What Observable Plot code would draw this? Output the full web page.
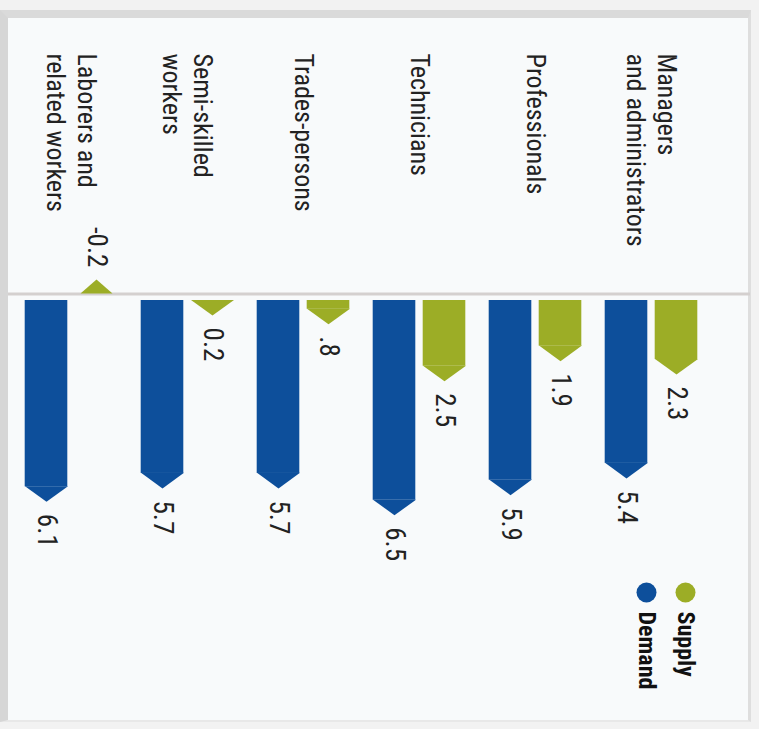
<!DOCTYPE html>
<html><head><meta charset="utf-8">
<script src="https://cdn.jsdelivr.net/npm/d3@7"></script>
<script src="https://cdn.jsdelivr.net/npm/@observablehq/plot@0.6"></script>
<style>
html,body{margin:0;padding:0;background:#f2f2f2;}
#frame{position:absolute;left:0;top:10px;width:740px;height:702px;background:#f8fafb;border-top:8px solid #dadada;border-left:8px solid #d6d6d6;border-right:3px solid #dedede;border-bottom:2px solid #e8e8e8;}
#chart{position:absolute;left:0;top:0;}
</style></head><body>
<div id="frame"></div>
<div id="chart"></div>
<script>
// ---- data ----
const categories = [
  "Laborers and\nrelated workers",
  "Semi-skilled\nworkers",
  "Trades-persons",
  "Technicians",
  "Professionals",
  "Managers\nand administrators"
];
const series = ["Demand", "Supply"];
const demand = [6.1, 5.7, 5.7, 6.5, 5.9, 5.4];
const supply = [-0.2, 0.2, 0.8, 2.5, 1.9, 2.3];
const demandLabels = ["6.1", "5.7", "5.7", "6.5", "5.9", "5.4"];
const supplyLabels = ["-0.2", "0.2", ".8", "2.5", "1.9", "2.3"];

const rows = categories.flatMap((c, i) => [
  {category: c, series: "Demand", value: demand[i], label: demandLabels[i]},
  {category: c, series: "Supply", value: supply[i], label: supplyLabels[i]}
]);

// ---- style ----
const FONT = '"Liberation Sans Narrow","Arial Narrow","Roboto Condensed","Liberation Sans",sans-serif';
const BLUE = "#0d4f9b", OLIVE = "#9cad26";
const BAR_INSET = 36.7;      // (band step - bar width) / 2
const TIP_H = 15;            // arrow tip height in px
const MIN_TIP = 0.54;        // minimum visible arrow length (value units)
const offset = {Demand: -26, Supply: 24};
const tipY = d => Math.sign(d.value) * Math.max(Math.abs(d.value), MIN_TIP);

const downTip = {draw(ctx) { ctx.moveTo(-21.5, -TIP_H - 0.6); ctx.lineTo(21.5, -TIP_H - 0.6); ctx.lineTo(0, 0); ctx.closePath(); }};
const upTip = {draw(ctx) { ctx.moveTo(-16, 14); ctx.lineTo(16, 14); ctx.lineTo(0, 0); ctx.closePath(); }};

function seriesMarks(s) {
  const dx = offset[s];
  return [
    Plot.rectY(rows, {filter: d => d.series === s && d.value > 0, x: "category", y1: 0, y2: "value",
      fill: "series", insetLeft: BAR_INSET, insetRight: BAR_INSET, insetTop: 3, insetBottom: TIP_H, dx}),
    Plot.dot(rows, {filter: d => d.series === s && d.value >= 0, x: "category", y: tipY,
      symbol: downTip, r: 5, fill: "series", stroke: "none", dx}),
    Plot.dot(rows, {filter: d => d.series === s && d.value < 0, x: "category", y: tipY,
      symbol: upTip, r: 5, fill: "series", stroke: "none", dx}),
    Plot.text(rows, {filter: d => d.series === s && d.value >= 0, x: "category", y: tipY, text: "label",
      rotate: 90, textAnchor: "start", lineAnchor: "middle", fontSize: 27, fill: "#222", dx, dy: 12}),
    Plot.text(rows, {filter: d => d.series === s && d.value < 0, x: "category", y: tipY, text: "label",
      rotate: 90, textAnchor: "end", lineAnchor: "middle", fontSize: 27, fill: "#222", dx, dy: -12})
  ];
}

const legendPos = {Demand: -65, Supply: -26};
const legendMarks = series.flatMap(s => [
  Plot.dot([s], {frameAnchor: "bottom-right", dx: legendPos[s], dy: -107, r: 10, fill: d => d, stroke: "none"}),
  Plot.text([s], {frameAnchor: "bottom-right", dx: legendPos[s], dy: -88, text: d => d, rotate: 90,
    textAnchor: "start", lineAnchor: "middle", fontSize: 24, fontWeight: "bold", fill: "#111"})
]);

const chart = Plot.plot({
  width: 759,
  height: 729,
  marginTop: 29,
  marginBottom: 30,
  marginLeft: 13,
  marginRight: 48,
  style: {fontFamily: FONT, background: "transparent", overflow: "visible"},
  x: {domain: categories, padding: 0, axis: null},
  y: {domain: [-8, 12], reverse: true, axis: null},
  color: {domain: series, range: [BLUE, OLIVE]},
  marks: [
    Plot.ruleY([0], {stroke: "#d4d0cf", strokeWidth: 3, dy: -3.5, insetLeft: -5, insetRight: -39}),
    ...seriesMarks("Demand"),
    ...seriesMarks("Supply"),
    Plot.text(categories, {x: d => d, frameAnchor: "top", dy: 24, text: d => d, rotate: 90,
      textAnchor: "start", lineAnchor: "middle", fontSize: 26, lineHeight: 1.2, fill: "#222"}),
    ...legendMarks
  ]
});
document.getElementById("chart").append(chart);
</script></body></html>
